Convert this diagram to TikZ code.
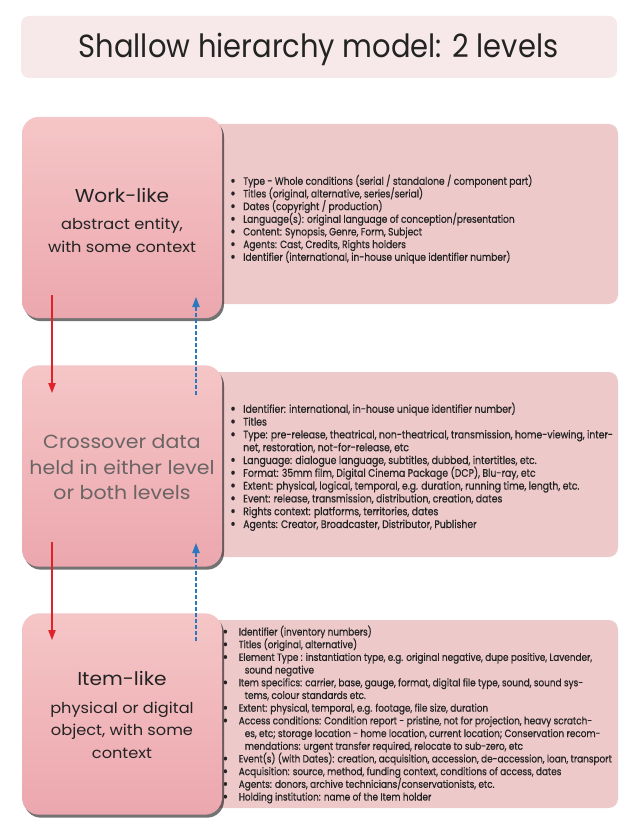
\documentclass[tikz,border=0pt]{standalone}
\usepackage{fontspec}
\setmainfont{Poppins}[FakeStretch=0.85]
\newfontfamily\listfont{Poppins}[FakeStretch=0.85, FakeBold=0.5]
\newfontfamily\titlefont{Poppins}[FakeStretch=0.905]
\newfontfamily\boxfont{Poppins}[FakeStretch=1.08]
\usetikzlibrary{arrows.meta,shadows}
\definecolor{titlebg}{HTML}{F7E9E9}
\definecolor{boxtop}{HTML}{F5C6C7}
\definecolor{boxbot}{HTML}{ECA7AE}
\definecolor{panel}{HTML}{EDC9CA}
\definecolor{ink}{HTML}{232323}
\definecolor{grayink}{HTML}{6B6464}
\definecolor{arrred}{HTML}{E0222B}
\definecolor{arrblue}{HTML}{2A78BE}
\newlength{\bulw}
\newlength{\hangw}
\newcommand{\bigbullet}{\raisebox{-0.9pt}{\scalebox{1.45}{\textbullet}}}
\newcommand{\bi}[1]{\makebox[\bulw][l]{\bigbullet}\smash{#1}}
\newcommand{\ci}[1]{\hspace*{\bulw}\hspace*{\hangw}\smash{#1}}
\newcommand{\bighead}[1]{{\fontsize{14pt}{17pt}\selectfont #1}}
\tikzset{
  titlebox/.style={rectangle, rounded corners=6pt, fill=titlebg, minimum width=447pt, minimum height=46.5pt, inner sep=0pt},
  titletext/.style={inner sep=0pt, text=ink, font=\titlefont\fontsize{24pt}{28pt}\selectfont},
  levelbox/.style={rectangle, rounded corners=12.75pt, minimum width=150pt, minimum height=151pt,
    top color=boxtop, bottom color=boxbot, draw=none, inner sep=0pt,
    drop shadow={shadow xshift=1.5pt, shadow yshift=-2.25pt, fill=black, opacity=0.55}},
  boxtext/.style={align=center, inner sep=0pt, text=ink},
  panelbox/.style={rectangle, rounded corners=7pt, fill=panel, minimum width=306pt, inner sep=0pt},
  listtext/.style={anchor=base west, inner sep=0pt, text=ink},
  down/.style={draw=arrred, line width=0.9pt, -{Triangle[length=7.5pt,width=5.5pt]}},
  up/.style={draw=arrblue, line width=0.9pt, dash pattern=on 3pt off 1.5pt, -{Triangle[length=7.5pt,width=5.5pt]}}
}
\renewcommand{\arraystretch}{1}
\begin{document}
\begin{tikzpicture}[x=0.75pt,y=-0.75pt]
\useasboundingbox (0,0) rectangle (640,834);
\fill[white] (0,0) rectangle (640,834);

% title
\node[titlebox] (title) at (319,47) {};
\node[titletext] (titletxt) at (318.5,49.5) {Shallow hierarchy model: 2 levels};

% panels
\node[panelbox, minimum height=135pt] (workpanel) at (414,214) {};
\node[panelbox, minimum height=138.75pt] (crosspanel) at (414,464.5) {};
\node[panelbox, minimum height=141pt] (itempanel) at (414,714) {};

% level boxes
\node[levelbox] (work) at (122,217.5) {};
\node[levelbox] (cross) at (122,466) {};
\node[levelbox] (item) at (122,714) {};

\node[boxtext, font=\boxfont\fontsize{11.25pt}{17.25pt}\selectfont] (worktxt) at (122,220.5) {%
  \bighead{Work-like}\\[3pt]abstract entity,\\with some context};
\node[boxtext, text=grayink, font=\boxfont\fontsize{14.25pt}{19.1pt}\selectfont] (crosstxt) at (122,467.5) {%
  Crossover data\\held in either level\\or both levels};
\node[boxtext, font=\boxfont\fontsize{11.25pt}{16.9pt}\selectfont] (itemtxt) at (122,715) {%
  \bighead{Item-like}\\[3.4pt]physical or digital\\object, with some\\context};

% lists
\node[listtext] (worklist) at (230,184.8) {%
\listfont\fontsize{8pt}{9.5pt}\selectfont\setlength{\bulw}{9.75pt}\setlength{\hangw}{0pt}%
\begin{tabular}[t]{@{}l@{}}
\bi{Type - Whole conditions (serial / standalone / component part)}\\
\bi{Titles (original, alternative, series/serial)}\\
\bi{Dates (copyright / production)}\\
\bi{Language(s): original language of conception/presentation}\\
\bi{Content: Synopsis, Genre, Form, Subject}\\
\bi{Agents: Cast, Credits, Rights holders}\\
\bi{Identifier (international, in-house unique identifier number)}
\end{tabular}};
\node[listtext] (crosslist) at (230,412.8) {%
\listfont\fontsize{8.2pt}{9.6pt}\selectfont\setlength{\bulw}{9.75pt}\setlength{\hangw}{0pt}%
\begin{tabular}[t]{@{}l@{}}
\bi{Identifier: international, in-house unique identifier number)}\\
\bi{Titles}\\
\bi{Type: pre-release, theatrical, non-theatrical, transmission, home-viewing, inter-}\\
\ci{net, restoration, not-for-release, etc}\\
\bi{Language: dialogue language, subtitles, dubbed, intertitles, etc.}\\
\bi{Format: 35mm film, Digital Cinema Package (DCP), Blu-ray, etc}\\
\bi{Extent: physical, logical, temporal, e.g. duration, running time, length, etc.}\\
\bi{Event: release, transmission, distribution, creation, dates}\\
\bi{Rights context: platforms, territories, dates}\\
\bi{Agents: Creator, Broadcaster, Distributor, Publisher}
\end{tabular}};
\node[listtext] (itemlist) at (222.5,635.5) {%
\listfont\fontsize{7.85pt}{9.52pt}\selectfont\setlength{\bulw}{12pt}\setlength{\hangw}{4.5pt}%
\begin{tabular}[t]{@{}l@{}}
\bi{Identifier (inventory numbers)}\\
\bi{Titles (original, alternative)}\\
\bi{Element Type : instantiation type, e.g. original negative, dupe positive, Lavender,}\\
\ci{sound negative}\\
\bi{Item specifics: carrier, base, gauge, format, digital file type, sound, sound sys-}\\
\ci{tems, colour standards etc.}\\
\bi{Extent: physical, temporal, e.g. footage, file size, duration}\\
\bi{Access conditions: Condition report - pristine, not for projection, heavy scratch-}\\
\ci{es, etc; storage location - home location, current location; Conservation recom-}\\
\ci{mendations: urgent transfer required, relocate to sub-zero, etc}\\
\bi{Event(s) (with Dates): creation, acquisition, accession, de-accession, loan, transport}\\
\bi{Acquisition: source, method, funding context, conditions of access, dates}\\
\bi{Agents: donors, archive technicians/conservationists, etc.}\\
\bi{Holding institution: name of the Item holder}
\end{tabular}};

% arrows
\coordinate (r1a) at (52,295);
\coordinate (r1b) at (52,393);
\coordinate (b1a) at (196,395);
\coordinate (b1b) at (196,297);
\coordinate (r2a) at (52,542);
\coordinate (r2b) at (52,640);
\coordinate (b2a) at (196,641);
\coordinate (b2b) at (196,543);
\draw[down] (r1a) -- (r1b);
\draw[up] (b1a) -- (b1b);
\draw[down] (r2a) -- (r2b);
\draw[up] (b2a) -- (b2b);
\end{tikzpicture}
\end{document}
